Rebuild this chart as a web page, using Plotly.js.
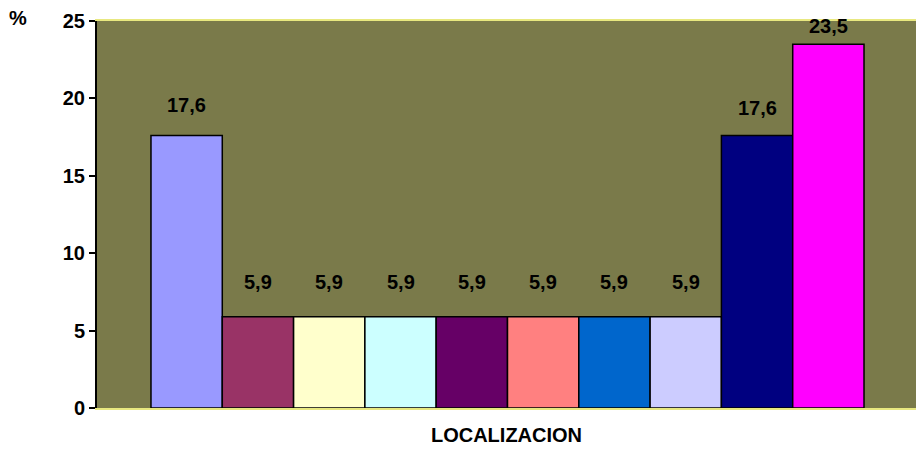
<!DOCTYPE html>
<html>
<head>
<meta charset="utf-8">
<script src="https://cdn.plot.ly/plotly-3.0.1.min.js"></script>
<style>html,body{margin:0;padding:0;background:#fff;}#chart{width:916px;height:453px;}</style>
</head>
<body>
<div id="chart"></div>
<script>
const categories = ["Loc 1","Loc 2","Loc 3","Loc 4","Loc 5","Loc 6","Loc 7","Loc 8","Loc 9","Loc 10"];
const values = [17.6, 5.9, 5.9, 5.9, 5.9, 5.9, 5.9, 5.9, 17.6, 23.5];
const labels = ["17,6","5,9","5,9","5,9","5,9","5,9","5,9","5,9","17,6","23,5"];
const colors = ["#9999FF","#993366","#FFFFCC","#CCFFFF","#660066","#FF8080","#0066CC","#CCCCFF","#000080","#FF00FF"];
const labelShift = [31,35,35,35,35,35,35,35,28,18];
const yTicks = [0,5,10,15,20,25];

const font = {family: "Liberation Sans, Arial, sans-serif", size: 20, color: "#000"};

const trace = {
  type: "bar",
  x: categories,
  y: values,
  marker: {color: colors, line: {color: "#000", width: 1.5}},
  width: 1,
  hoverinfo: "skip"
};

const annotations = categories.map((c, i) => ({
  x: c, y: values[i], xref: "x", yref: "y",
  text: "<b>" + labels[i] + "</b>", showarrow: false,
  yanchor: "middle", yshift: labelShift[i], font: font
}));
annotations.push({
  x: 0, y: 1, xref: "paper", yref: "paper", text: "<b>%</b>",
  showarrow: false, font: font,
  xanchor: "center", yanchor: "middle", xshift: -79, yshift: 3
});

const layout = {
  width: 916, height: 453,
  margin: {l: 97, r: 0, t: 21, b: 45},
  paper_bgcolor: "#fff",
  plot_bgcolor: "#7A7A4A",
  showlegend: false,
  bargap: 0,
  xaxis: {
    type: "category",
    range: [-1.257, 10.229],
    showticklabels: false,
    ticks: "",
    showgrid: false,
    zeroline: false,
    showline: true, linecolor: "#E8E880", linewidth: 2, mirror: true,
    title: {text: "<b>LOCALIZACION</b>", font: font, standoff: 19}
  },
  yaxis: {
    range: [0, 25],
    tickvals: yTicks,
    ticktext: yTicks.map(v => "<b>" + v + "</b>"),
    ticks: "outside", ticklen: 6, tickwidth: 2, tickcolor: "#000",
    showgrid: false, zeroline: false,
    showline: true, linecolor: "#000", linewidth: 2,
    tickfont: font
  },
  annotations: annotations
};

Plotly.newPlot("chart", [trace], layout, {displayModeBar: false, staticPlot: true});
</script>
</body>
</html>
